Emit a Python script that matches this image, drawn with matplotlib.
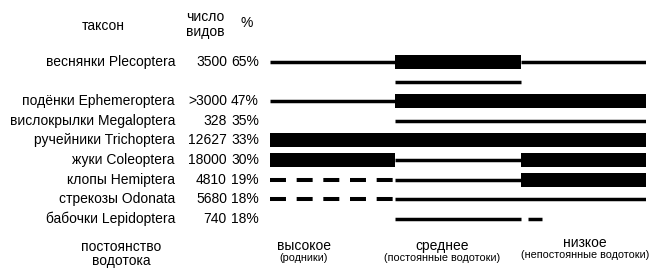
import matplotlib.pyplot as plt
from matplotlib.transforms import blended_transform_factory

plt.rcParams['font.family'] = ['Liberation Sans', 'DejaVu Sans']
plt.rcParams['lines.scale_dashes'] = False

taxa = ['веснянки Plecoptera', '', 'подёнки Ephemeroptera', 'вислокрылки Megaloptera',
        'ручейники Trichoptera', 'жуки Coleoptera', 'клопы Hemiptera',
        'стрекозы Odonata', 'бабочки Lepidoptera']
species = ['3500', '', '>3000', '328', '12627', '18000', '4810', '5680', '740']
percent = ['65%', '', '47%', '35%', '33%', '30%', '19%', '18%', '18%']

# flow constancy zones: 0-1 high, 1-2 medium, 2-3 low
ranges = [
    [(0, 1, 'thin'), (1, 2, 'thick'), (2, 3, 'thin')],
    [(1, 2, 'thin')],
    [(0, 1, 'thin'), (1, 3, 'thick')],
    [(1, 3, 'thin')],
    [(0, 3, 'thick')],
    [(0, 1, 'thick'), (1, 2, 'thin'), (2, 3, 'thick')],
    [(0, 1, 'dash'), (1, 2, 'thin'), (2, 3, 'thick')],
    [(0, 1, 'dash'), (1, 3, 'thin')],
    [(1, 2, 'thin'), (2.06, 2.17, 'thin')],
]
zones = ['высокое', 'среднее', 'низкое']
zone_notes = ['(родники)', '(постоянные водотоки)', '(непостоянные водотоки)']

W, H = 660, 273
fig = plt.figure(figsize=(W / 100, H / 100), dpi=100)
ax = fig.add_axes([270 / W, 0, 376 / W, 1])
row_px = 19.6
ax.set_xlim(0, 3)
ax.set_ylim((H - 62) / row_px, -62 / row_px)
ax.axis('off')

for i, segs in enumerate(ranges):
    for s, e, kind in segs:
        if kind == 'thick':
            ax.barh(i, e - s, left=s, height=14 / row_px, color='black')
        elif kind == 'thin':
            ax.hlines(i, s, e, colors='black', lw=2.5, capstyle='butt')
        else:
            ax.hlines(i, s, e, colors='black', lw=2.9, capstyle='butt',
                      linestyles=[(0, (11.5, 7.7))])

tr = blended_transform_factory(fig.transFigure, ax.transData)
fs = 10
for i in range(len(taxa)):
    ax.text(175 / W, i, taxa[i], transform=tr, ha='right', va='center', fontsize=fs)
    ax.text(227 / W, i, species[i], transform=tr, ha='right', va='center', fontsize=fs)
    ax.text(231 / W, i, percent[i], transform=tr, ha='left', va='center', fontsize=fs)

def ftext(x, y, s, size, **kw):
    fig.text(x / W, 1 - y / H, s, ha='center', va='center', fontsize=size, **kw)

ftext(103, 26, 'таксон', fs)
ftext(205, 17, 'число', fs)
ftext(205, 32, 'видов', fs)
ftext(247, 23, '%', fs)
ftext(121, 247, 'постоянство', fs)
ftext(121, 261, 'водотока', fs)

zone_x = [304, 442, 585]
zone_y = [246, 246, 243]
for z in range(3):
    ftext(zone_x[z], zone_y[z], zones[z], fs)
    ftext(zone_x[z], zone_y[z] + 12, zone_notes[z], 7.8)

fig.savefig('out.png', dpi=100)
